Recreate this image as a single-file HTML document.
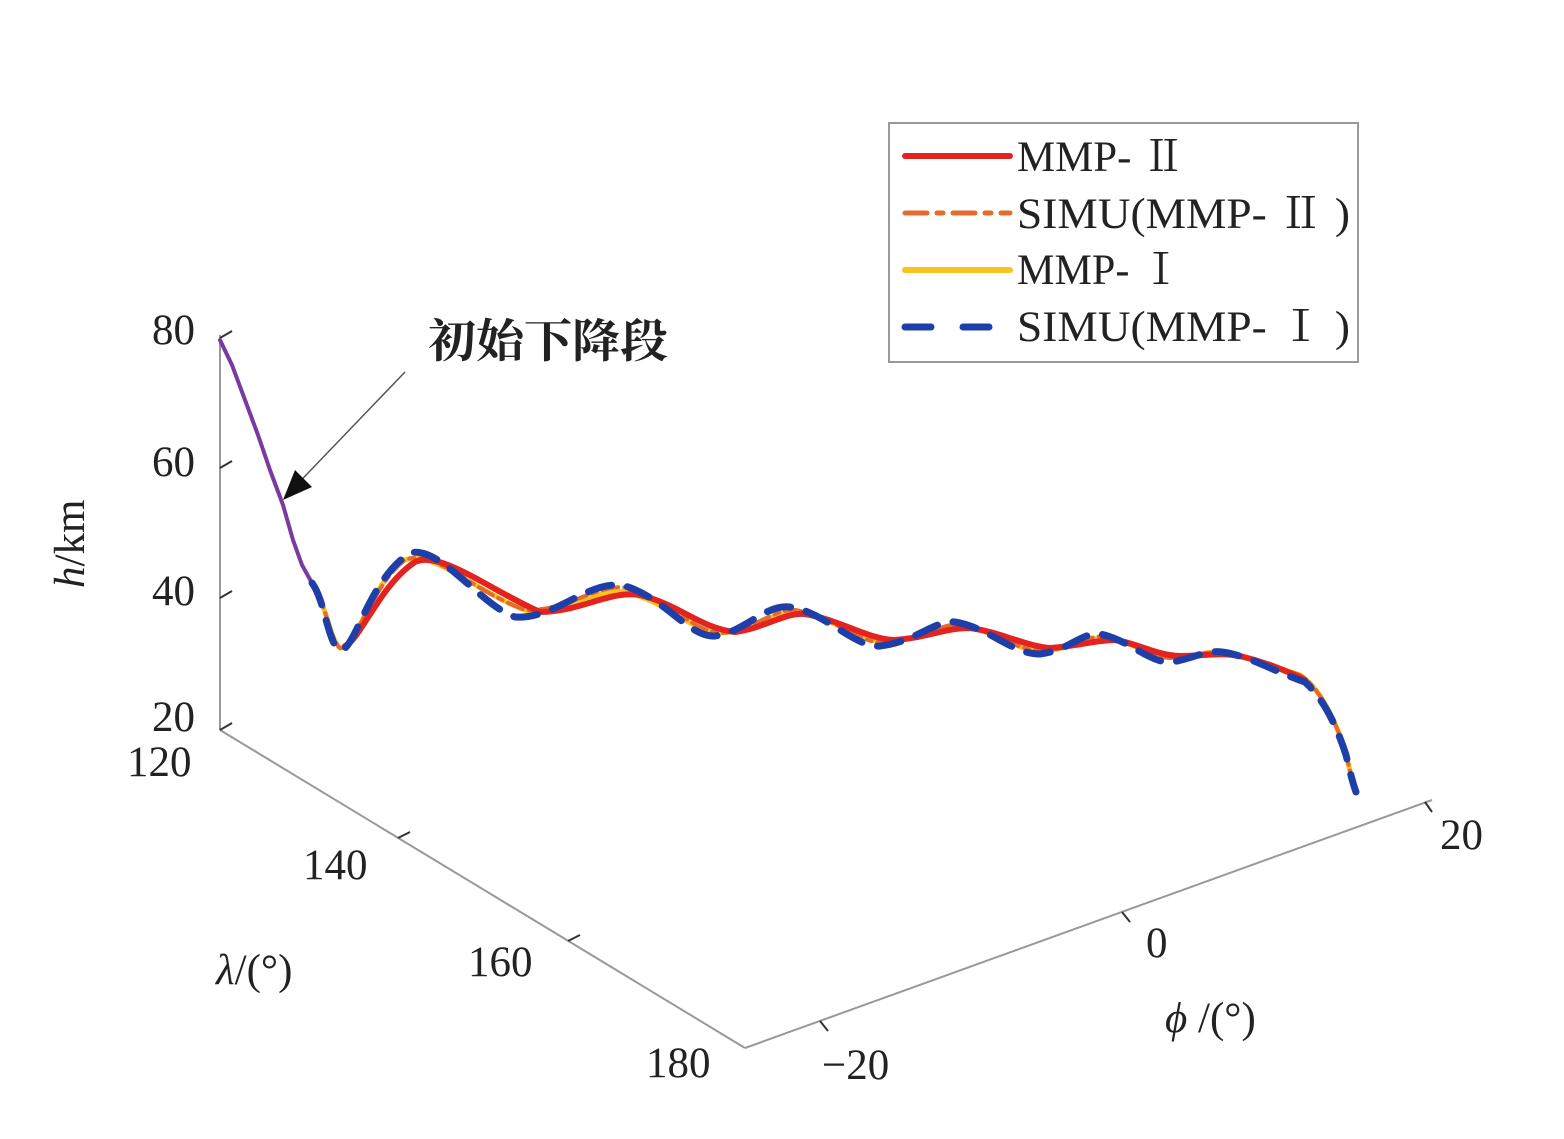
<!DOCTYPE html>
<html><head><meta charset="utf-8"><style>
html,body{margin:0;padding:0;background:#fff;}
svg{display:block;}
text{font-family:"Liberation Serif","Noto Serif CJK SC",serif;fill:#222;}
</style></head><body>
<svg width="1564" height="1139" viewBox="0 0 1564 1139" xmlns="http://www.w3.org/2000/svg">
<!-- axes -->
<g stroke="#999" stroke-width="2" fill="none">
<line x1="220" y1="335" x2="220" y2="730"/>
<line x1="220" y1="730" x2="745" y2="1048"/>
<line x1="745" y1="1048" x2="1432" y2="800"/>
</g>
<g stroke="#333" stroke-width="2">
<line x1="220" y1="338" x2="232" y2="331"/>
<line x1="220" y1="468" x2="232" y2="461"/>
<line x1="220" y1="598" x2="232" y2="591"/>
<line x1="220" y1="730" x2="232" y2="723"/>
<line x1="398" y1="838" x2="410" y2="832"/>
<line x1="568" y1="941" x2="580" y2="935"/>
<line x1="820" y1="1021" x2="828" y2="1031"/>
<line x1="1122" y1="912" x2="1130" y2="922"/>
<line x1="1425" y1="802" x2="1432" y2="812"/>
</g>
<g font-size="43">
<text x="152" y="344">80</text>
<text x="152" y="476">60</text>
<text x="152" y="605">40</text>
<text x="152" y="731">20</text>
<text x="127" y="776">120</text>
<text x="303" y="879">140</text>
<text x="468" y="976">160</text>
<text x="646" y="1077">180</text>
<text x="822" y="1079">−20</text>
<text x="1146" y="957">0</text>
<text x="1440" y="849">20</text>
<text x="0" y="0" transform="translate(84,588) rotate(-90)"><tspan font-style="italic">h</tspan>/km</text>
<text x="216" y="984"><tspan font-style="italic">λ</tspan>/(°)</text>
<text x="1165" y="1032"><tspan font-style="italic">ϕ</tspan> /(°)</text>
</g>
<!-- annotation -->
<text x="428" y="357" font-size="46" font-weight="bold" textLength="240" lengthAdjust="spacingAndGlyphs" style="font-family:'Noto Serif CJK SC','Noto Sans CJK SC',serif">初始下降段</text>
<line x1="405" y1="372" x2="285" y2="497" stroke="#555" stroke-width="1.5"/>
<path d="M283,500 L295,470 L312,487 z" fill="#111"/>
<!-- curves -->
<g fill="none" stroke-linecap="round" stroke-linejoin="round">
<polyline stroke="#7a3aa0" stroke-width="4" points="220,340 232,365 245,400 258,435 270,470 283,505 293,540 302,565 312,583"/>
<path stroke="#f7c51d" stroke-width="5" d="M312,583 C325,600 330,640 340,648 C355,650 370,590 400,562 C430,545 470,590 530,612 C570,612 600,585 630,593 C670,605 690,630 720,633 C750,632 775,610 795,612 C830,615 860,642 885,642 C920,640 940,626 960,626 C990,628 1015,650 1040,651 C1070,650 1085,638 1105,638 C1130,640 1150,657 1170,657 C1195,657 1205,652 1215,652 C1245,656 1270,665 1300,675 C1320,688 1335,720 1345,750 C1350,770 1353,785 1355,792"/>
<path stroke="#e66a2c" stroke-width="4" stroke-dasharray="16,6,5,6" d="M312,583 C325,600 330,640 340,648 C355,650 372,585 405,560 C435,548 470,590 525,610 C565,612 600,582 628,588 C670,600 690,630 720,633 C750,632 775,608 795,610 C830,615 860,644 885,643 C920,640 940,624 960,624 C990,628 1015,650 1040,651 C1070,650 1085,636 1105,636 C1130,640 1150,658 1170,658 C1195,657 1205,652 1215,652 C1245,656 1270,665 1300,675 C1320,688 1335,720 1345,750 C1350,770 1353,785 1355,792"/>
<path stroke="#e3231f" stroke-width="6" d="M345,646 C360,640 380,585 415,562 C440,550 490,590 540,612 C580,612 610,590 640,595 C680,605 700,628 735,632 C765,628 785,612 805,614 C840,620 870,640 895,640 C925,638 945,628 970,628 C1000,632 1025,646 1050,648 C1080,646 1095,640 1115,640 C1140,644 1155,655 1180,656 C1205,656 1220,652 1240,656 C1265,662 1285,670 1305,680"/>
<path stroke="#1f3fa8" stroke-width="7" stroke-dasharray="24,16" d="M312,583 C325,600 328,645 340,650 C355,652 368,580 410,553 C440,545 480,605 515,617 C555,620 590,578 625,586 C665,598 690,638 715,636 C745,632 765,604 790,607 C825,612 855,648 880,646 C915,642 935,620 955,622 C990,628 1012,654 1040,654 C1070,650 1082,632 1100,634 C1130,640 1150,664 1172,662 C1195,658 1205,650 1222,652 C1250,656 1275,672 1305,682 C1325,700 1338,730 1346,755 C1350,772 1353,784 1356,792"/>
</g>
<!-- legend -->
<rect x="889" y="123" width="469" height="239" fill="#fff" stroke="#999" stroke-width="2"/>
<g stroke-linecap="round" stroke-width="6" fill="none">
<line x1="905" y1="156" x2="1010" y2="156" stroke="#e3231f"/>
<line x1="905" y1="213" x2="1010" y2="213" stroke="#e66a2c" stroke-width="5" stroke-dasharray="22,10,6,10"/>
<line x1="905" y1="270" x2="1010" y2="270" stroke="#f7c51d"/>
<line x1="905" y1="327" x2="990" y2="327" stroke="#1f3fa8" stroke-width="7" stroke-dasharray="26,32"/>
</g>
<g font-size="43">
<text x="1017" y="171" textLength="168" lengthAdjust="spacingAndGlyphs">MMP- Ⅱ</text>
<text x="1017" y="228" textLength="333" lengthAdjust="spacingAndGlyphs">SIMU(MMP- Ⅱ )</text>
<text x="1017" y="284" textLength="165" lengthAdjust="spacingAndGlyphs">MMP- Ⅰ</text>
<text x="1017" y="341" textLength="333" lengthAdjust="spacingAndGlyphs">SIMU(MMP- Ⅰ )</text>
</g>
</svg>
</body></html>
